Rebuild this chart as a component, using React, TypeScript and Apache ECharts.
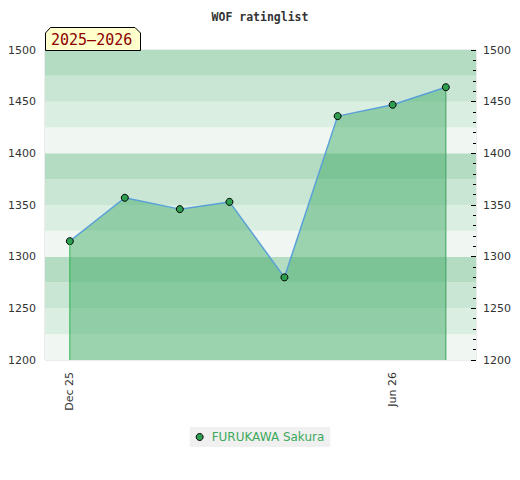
import React, { useEffect, useRef } from "react";
import * as echarts from "echarts";

const seriesName = "FURUKAWA Sakura";
const titleText = "WOF ratinglist";
const seasonText = "2025–2026";
const dates = [
  Date.UTC(2025, 11, 1),
  Date.UTC(2026, 0, 1),
  Date.UTC(2026, 1, 1),
  Date.UTC(2026, 2, 1),
  Date.UTC(2026, 3, 1),
  Date.UTC(2026, 4, 1),
  Date.UTC(2026, 5, 1),
  Date.UTC(2026, 6, 1),
];
const ratings = [1315, 1357, 1346, 1353, 1280, 1436, 1447, 1464];
const xMin = Date.UTC(2025, 10, 17);
const xMax = Date.UTC(2026, 6, 18);
const xLabelDates = [Date.UTC(2025, 11, 1), Date.UTC(2026, 5, 1)];
const xLabelTexts = ["Dec 25", "Jun 26"];
const yMin = 1200;
const yMax = 1500;

export default function App() {
  const ref = useRef<HTMLDivElement>(null);
  useEffect(() => {
    if (!ref.current) return;
    const chart = echarts.init(ref.current, null, { renderer: "svg" });
    const pts = dates.map((d, i) => [d, ratings[i]]);
    const first = pts[0];
    const last = pts[pts.length - 1];
    chart.setOption({
      animation: false,
      title: {
        text: titleText,
        left: "center",
        top: 6,
        textStyle: {
          fontFamily: "DejaVu Sans Mono",
          fontWeight: "bold",
          fontSize: 11.5,
          color: "#333",
        },
      },
      grid: {
        left: 45,
        right: 44,
        top: 50,
        bottom: 120,
        show: true,
        borderColor: "#d8d8d8",
        borderWidth: 1,
        backgroundColor: "transparent",
      },
      legend: {
        data: [
          {
            name: seriesName,
            icon: "circle",
            itemStyle: { color: "#2e9e50", borderColor: "#000", borderWidth: 1 },
          },
        ],
        left: "center",
        top: 427,
        backgroundColor: "#f0f0f0",
        padding: [4, 6],
        itemWidth: 14,
        itemHeight: 7,
        textStyle: { color: "#3daa5c", fontSize: 12, fontFamily: "DejaVu Sans" },
      },
      xAxis: {
        type: "value",
        min: xMin,
        max: xMax,
        axisLine: { show: false },
        axisTick: { show: false },
        splitLine: { show: false },
        axisLabel: {
          customValues: xLabelDates,
          rotate: 90,
          margin: 12,
          fontSize: 11,
          fontFamily: "DejaVu Sans",
          color: "#333",
          formatter: (v: number) => {
            const idx = xLabelDates.findIndex((d) => Math.abs(d - v) < 86400000);
            return idx >= 0 ? xLabelTexts[idx] : "";
          },
        },
      },
      yAxis: [
        {
          type: "value",
          min: yMin,
          max: yMax,
          interval: 25,
          axisLine: { show: false },
          axisTick: { show: false },
          splitLine: { show: false },
          splitArea: {
            show: true,
            areaStyle: {
              color: ["#f0f7f2", "#dbeee2", "#c8e6d3", "#b3dcc2"],
            },
          },
          axisLabel: {
            margin: 9,
            fontSize: 11,
            fontFamily: "DejaVu Sans",
            color: "#333",
            formatter: (v: number) => (v % 50 === 0 ? String(v) : ""),
          },
        },
        {
          type: "value",
          position: "right",
          min: yMin,
          max: yMax,
          interval: 50,
          axisLine: { show: false },
          axisTick: { show: true, inside: true, length: 5, lineStyle: { color: "#000" } },
          minorTick: { show: true, splitNumber: 5, length: 3, lineStyle: { color: "#000" } },
          splitLine: { show: false },
          axisLabel: {
            margin: 7,
            fontSize: 11,
            fontFamily: "DejaVu Sans",
            color: "#333",
            formatter: (v: number) => String(v),
          },
        },
      ],
      graphic: [
        {
          type: "polygon",
          shape: {
            points: [
              [45.5, 50.5],
              [45.5, 33],
              [50.5, 27.5],
              [135, 27.5],
              [140.5, 33],
              [140.5, 50.5],
            ],
          },
          style: { fill: "#ffffcc", stroke: "#000", lineWidth: 1 },
          z: 10,
        },
        {
          type: "text",
          x: 51,
          y: 40,
          style: {
            text: seasonText,
            fill: "#8b0000",
            font: "15px 'DejaVu Sans Mono'",
            textVerticalAlign: "middle",
          },
          z: 11,
        },
      ],
      series: [
        {
          name: "leftEdge",
          type: "line",
          data: [[first[0], yMin], first],
          symbol: "none",
          lineStyle: { color: "#2db54f", width: 1 },
          silent: true,
          z: 5,
        },
        {
          name: "rightEdge",
          type: "line",
          data: [[last[0], yMin], last],
          symbol: "none",
          lineStyle: { color: "#3a9a5a", width: 1 },
          silent: true,
          z: 3,
        },
        {
          name: seriesName,
          type: "line",
          data: pts,
          symbol: "circle",
          symbolSize: 7,
          itemStyle: { color: "#2e9e50", borderColor: "#000", borderWidth: 1 },
          lineStyle: { color: "#5aa0d8", width: 1.5 },
          areaStyle: { color: "rgba(61,170,99,0.47)", opacity: 1, origin: "start" },
          z: 4,
        },
      ],
    });
    return () => chart.dispose();
  }, []);
  return (
    <div
      ref={ref}
      style={{ position: "absolute", left: 0, top: 0, width: 520, height: 480 }}
    />
  );
}
